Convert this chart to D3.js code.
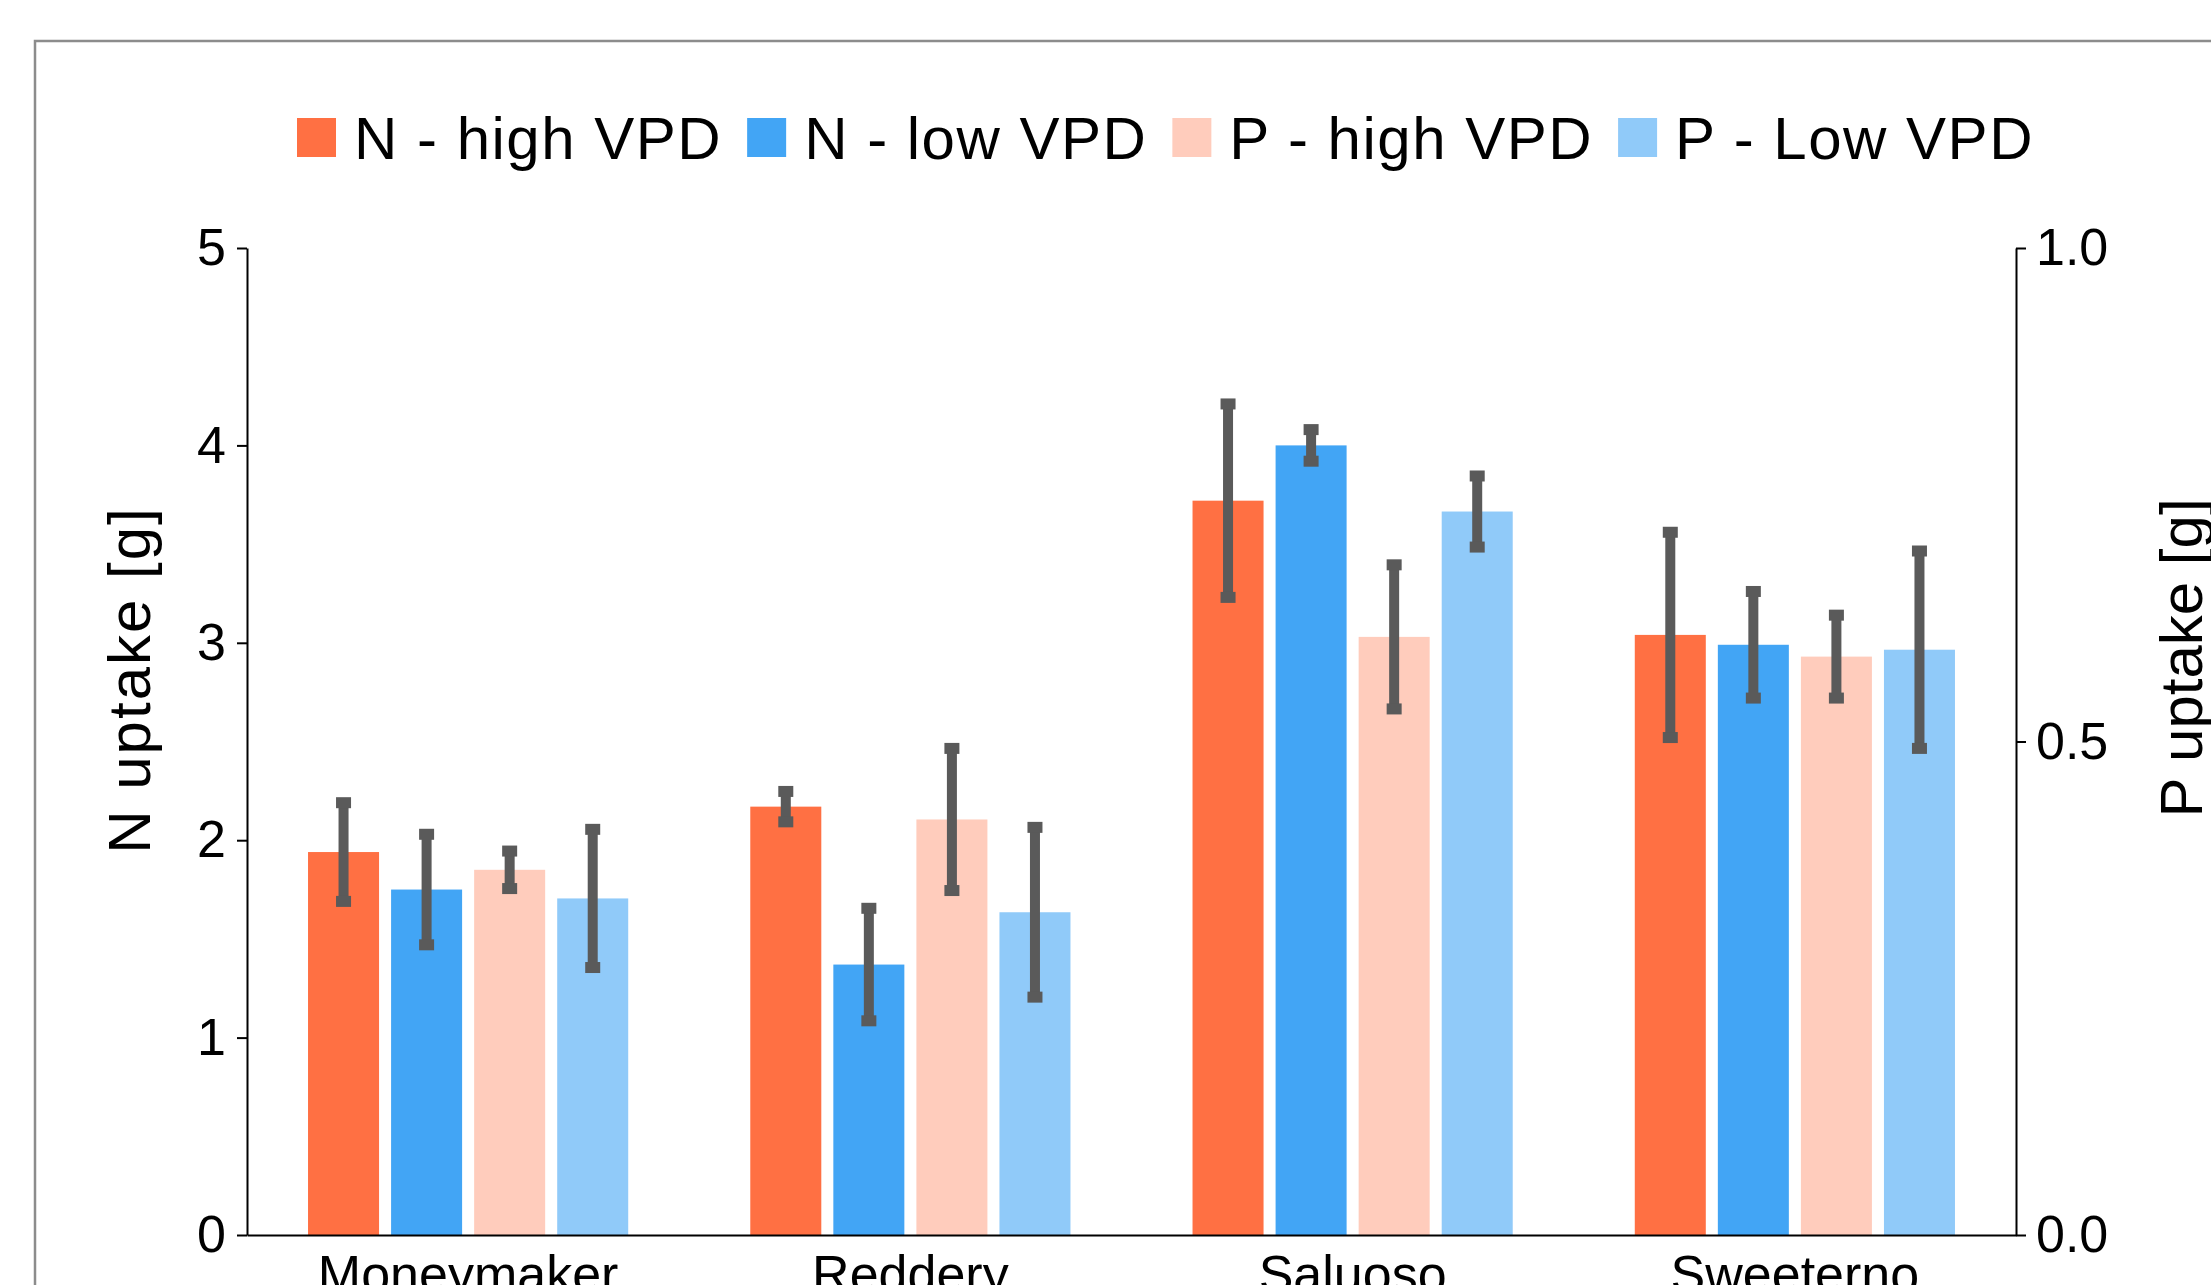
<!DOCTYPE html>
<html>
<head>
<meta charset="utf-8">
<script src="https://cdn.jsdelivr.net/npm/d3@7"></script>
<style>
  html, body { margin: 0; padding: 0; background: #fff; overflow: hidden; }
  svg { display: block; font-family: "Liberation Sans", Arial, sans-serif; }
</style>
</head>
<body>
<div class="canvas"></div>
<script>
// data
const categories = ["Moneymaker", "Reddery", "Saluoso", "Sweeterno"];
const seriesNames = ["N - high VPD", "N - low VPD", "P - high VPD", "P - Low VPD"];
const seriesColors = ["#FF7043", "#42A5F5", "#FFCCBC", "#90CAF9"];

// N uptake [g] (left axis)
const nHigh = [1.94, 2.17, 3.72, 3.04];
const nHighErr = [0.25, 0.077, 0.49, 0.52];
const nLow = [1.75, 1.37, 4.00, 2.99];
const nLowErr = [0.28, 0.285, 0.08, 0.27];
// P uptake [g] (right axis)
const pHigh = [0.37, 0.421, 0.606, 0.586];
const pHighErr = [0.019, 0.072, 0.073, 0.042];
const pLow = [0.341, 0.327, 0.733, 0.593];
const pLowErr = [0.07, 0.086, 0.036, 0.10];

const leftTicks = [0, 1, 2, 3, 4, 5];
const rightTicks = [0, 0.5, 1.0];

// set the dimensions and margins of the graph
const W = 2211, H = 1285;
const margin = {top: 248, left: 247},
    width = 1769,
    height = 987;

const svg = d3.select(".canvas")
  .append("svg")
    .attr("width", W)
    .attr("height", H);

// outer frame (runs off the picture on the right and bottom)
svg.append("rect")
    .attr("x", 35).attr("y", 41)
    .attr("width", 2400).attr("height", 1400)
    .attr("fill", "none")
    .attr("stroke", "#8c8c8c")
    .attr("stroke-width", 2.5);

const g = svg.append("g")
    .attr("transform", `translate(${margin.left},${margin.top})`);

// scales
const x0 = d3.scaleBand()
    .domain(categories)
    .range([0, width])
    .paddingInner(0.276)
    .paddingOuter(0.138);

const x1 = d3.scaleBand()
    .domain(seriesNames)
    .range([0, x0.bandwidth()])
    .paddingInner(0.145);

const yN = d3.scaleLinear().domain([0, 5]).range([height, 0]);
const yP = d3.scaleLinear().domain([0, 1]).range([height, 0]);

// rows: one per bar
const rows = [];
categories.forEach((c, i) => {
  rows.push({cat: c, key: seriesNames[0], v: nHigh[i], e: nHighErr[i], y: yN});
  rows.push({cat: c, key: seriesNames[1], v: nLow[i], e: nLowErr[i], y: yN});
  rows.push({cat: c, key: seriesNames[2], v: pHigh[i], e: pHighErr[i], y: yP});
  rows.push({cat: c, key: seriesNames[3], v: pLow[i], e: pLowErr[i], y: yP});
});
const color = d3.scaleOrdinal().domain(seriesNames).range(seriesColors);

// bars
g.selectAll("rect.bar")
  .data(rows)
  .join("rect")
    .attr("class", "bar")
    .attr("x", d => x0(d.cat) + x1(d.key))
    .attr("y", d => d.y(d.v))
    .attr("width", x1.bandwidth())
    .attr("height", d => height - d.y(d.v))
    .attr("fill", d => color(d.key));

// error bars
const errColor = "#5a5a5a";
const cx = d => x0(d.cat) + x1(d.key) + x1.bandwidth() / 2;
g.selectAll("rect.stem")
  .data(rows)
  .join("rect")
    .attr("class", "stem")
    .attr("x", d => cx(d) - 5)
    .attr("y", d => d.y(d.v + d.e))
    .attr("width", 10)
    .attr("height", d => d.y(d.v - d.e) - d.y(d.v + d.e))
    .attr("fill", errColor);

const caps = rows.flatMap(d => [{d: d, v: d.v + d.e}, {d: d, v: d.v - d.e}]);
g.selectAll("rect.cap")
  .data(caps)
  .join("rect")
    .attr("class", "cap")
    .attr("x", c => cx(c.d) - 7.5)
    .attr("y", c => c.d.y(c.v) - 5.5)
    .attr("width", 15)
    .attr("height", 11)
    .attr("fill", errColor);

// axes
const xAxis = g.append("g")
    .attr("transform", `translate(0,${height})`)
    .call(d3.axisBottom(x0).tickSize(0).tickPadding(20));

const yAxisL = g.append("g")
    .call(d3.axisLeft(yN).tickValues(leftTicks).tickFormat(d3.format("d"))
      .tickSize(10).tickSizeOuter(0).tickPadding(11));

const yAxisR = g.append("g")
    .attr("transform", `translate(${width},0)`)
    .call(d3.axisRight(yP).tickValues(rightTicks).tickFormat(d3.format(".1f"))
      .tickSize(10).tickSizeOuter(0).tickPadding(10));

[xAxis, yAxisL, yAxisR].forEach(a => {
  a.select(".domain").attr("stroke", "#000").attr("stroke-width", 2);
  a.selectAll(".tick line").attr("stroke", "#000").attr("stroke-width", 2);
  a.selectAll("text")
    .attr("fill", "#000")
    .style("font-size", "52px")
    .style("font-family", "'Liberation Sans', Arial, sans-serif");
});

// Y axis labels
svg.append("text")
    .attr("transform", "translate(150,680) rotate(-90)")
    .attr("text-anchor", "middle")
    .style("font-size", "60px")
    .style("letter-spacing", "2px")
    .text("N uptake [g]");

svg.append("text")
    .attr("transform", "translate(2202,658) rotate(-90)")
    .attr("text-anchor", "middle")
    .style("font-size", "60px")
    .text("P uptake [g]");

// legend
const legend = svg.append("g");
let lx = 297;
seriesNames.forEach((name, i) => {
  legend.append("rect")
      .attr("x", lx).attr("y", 118)
      .attr("width", 39).attr("height", 39)
      .attr("fill", seriesColors[i]);
  const t = legend.append("text")
      .attr("x", lx + 57).attr("y", 159)
      .style("font-size", "60px")
      .style("letter-spacing", "1.5px")
      .text(name);
  lx += 57 + t.node().getComputedTextLength() + 25;
});
</script>
</body>
</html>
